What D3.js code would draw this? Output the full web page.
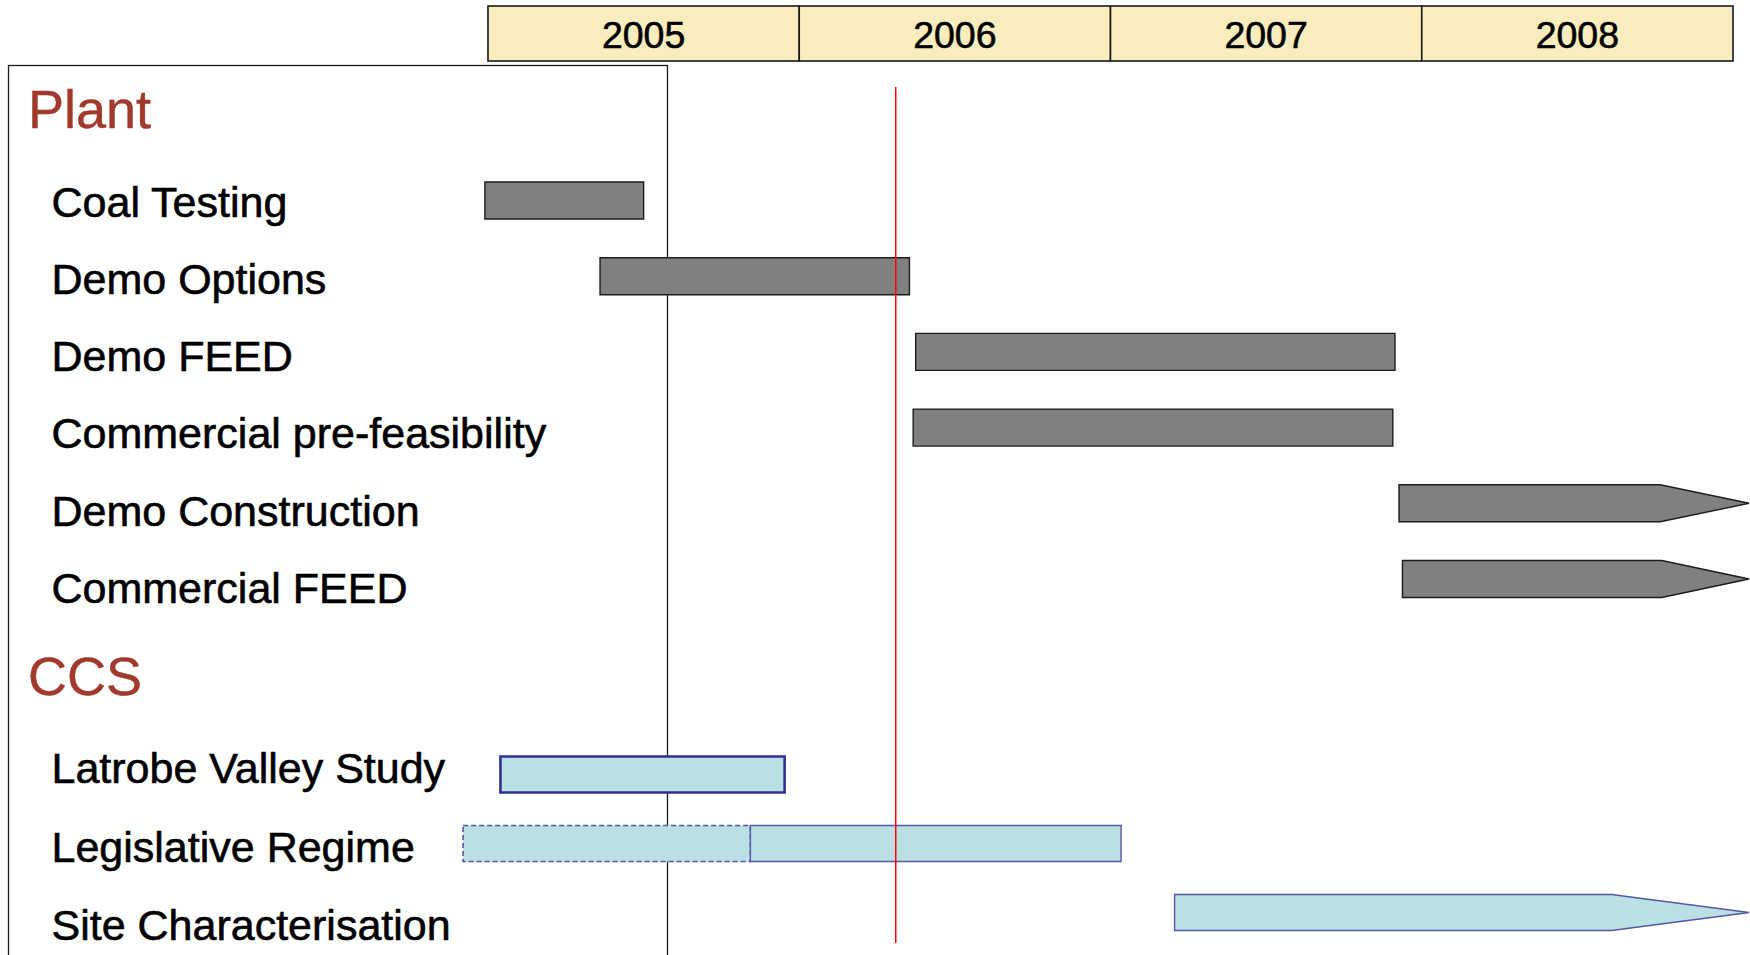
<!DOCTYPE html>
<html>
<head>
<meta charset="utf-8">
<script src="https://cdn.jsdelivr.net/npm/d3@7"></script>
<style>
  html, body { margin: 0; padding: 0; background: #ffffff; overflow: hidden; }
  svg { display: block; font-family: "Liberation Sans", Arial, Helvetica, sans-serif; }
</style>
</head>
<body>
<svg id="chart" width="1750" height="955"></svg>
<script>
// Timeline header
const years = ["2005", "2006", "2007", "2008"];
const timelineEnd = 2009;
const today = 2006.31;

// Plant workstream
const plantTasks = ["Coal Testing", "Demo Options", "Demo FEED", "Commercial pre-feasibility", "Demo Construction", "Commercial FEED"];
const plantStart = [2004.99, 2005.36, 2006.374, 2006.366, 2007.927, 2007.938];
const plantEnd   = [2005.50, 2006.354, 2007.914, 2007.907, 2008.766, 2008.771];
const plantOngoing = [false, false, false, false, true, true];

// CCS workstream
const ccsTasks = ["Latrobe Valley Study", "Legislative Regime", "Site Characterisation"];
const ccsStart = [2005.04, 2005.843, 2007.206];
const ccsEnd   = [2005.953, 2007.034, 2008.61];
const ccsTentativeFrom = [null, 2004.92, null];   // provisional lead-in period
const ccsOngoing = [false, false, true];
const ccsStatus = ["done", "active", "planned"];

const groups = [
  { name: "Plant", tasks: plantTasks, start: plantStart, end: plantEnd, ongoing: plantOngoing, kind: "plant" },
  { name: "CCS", tasks: ccsTasks, start: ccsStart, end: ccsEnd, ongoing: ccsOngoing, tentative: ccsTentativeFrom, status: ccsStatus, kind: "ccs" }
];

const svg = d3.select("#chart");

// time axis
const x = d3.scaleLinear().domain([+years[0], timelineEnd]).range([488, 1733]);
const tipX = 1749;

// row layout for each group: label baselines and bar centres
const layout = {
  Plant: { title: 128.3, label: d3.scaleLinear().domain([0, 5]).range([216.7, 603]),
           bar: d3.scaleLinear().domain([0, 5]).range([200.5, 579]), h: 37 },
  CCS:   { title: 695, label: d3.scaleLinear().domain([0, 2]).range([783.3, 940]),
           bar: d3.scaleLinear().domain([0, 2]).range([774.5, 912.5]), h: 36 }
};

const style = {
  plant: { fill: "#808080", stroke: "#1c1c1c", width: 1.4 },
  ccs:   { fill: "#bbe0e3", stroke: "#5456a8", width: 1.4 },
  done:  { stroke: "#2e3192", width: 2.6 }
};

// left task panel
svg.append("rect")
  .attr("x", 8.5).attr("y", 65.5)
  .attr("width", 659).attr("height", 1000)
  .attr("fill", "none").attr("stroke", "#1a1a1a").attr("stroke-width", 1.3);

// year header
const header = svg.append("g");
header.selectAll("rect").data(years).join("rect")
  .attr("x", d => x(+d)).attr("y", 6)
  .attr("width", d => x(+d + 1) - x(+d)).attr("height", 55)
  .attr("fill", "#f9edbd").attr("stroke", "#1a1a1a").attr("stroke-width", 1.6);
header.selectAll("text").data(years).join("text")
  .attr("x", d => (x(+d) + x(+d + 1)) / 2).attr("y", 48)
  .attr("text-anchor", "middle")
  .attr("font-size", 37.5).attr("fill", "#000")
  .attr("stroke", "#000").attr("stroke-width", 0.6)
  .text(d => d);

// bar shape: rectangle, or arrow running off the right edge
function barPath(x0, x1, yc, h, ongoing) {
  const t = yc - h / 2, b = yc + h / 2;
  const p = d3.path();
  p.moveTo(x0, t);
  p.lineTo(x1, t);
  if (ongoing) p.lineTo(tipX, yc);
  p.lineTo(x1, b);
  p.lineTo(x0, b);
  p.closePath();
  return p.toString();
}

groups.forEach(g => {
  const L = layout[g.name];
  const st = style[g.kind];

  svg.append("text")
    .attr("x", 28).attr("y", L.title)
    .attr("font-size", 54).attr("fill", "#a1392c")
    .attr("stroke", "#a1392c").attr("stroke-width", 0.4)
    .text(g.name);

  svg.append("g").selectAll("text").data(g.tasks).join("text")
    .attr("x", 51.5).attr("y", (d, i) => L.label(i))
    .attr("font-size", 43).attr("fill", "#000")
    .attr("stroke", "#000").attr("stroke-width", 0.6)
    .text(d => d);

  const bars = svg.append("g");
  g.tasks.forEach((name, i) => {
    const yc = L.bar(i);
    if (g.tentative && g.tentative[i] != null) {
      bars.append("rect")
        .attr("x", x(g.tentative[i])).attr("y", yc - L.h / 2)
        .attr("width", x(g.start[i]) - x(g.tentative[i])).attr("height", L.h)
        .attr("fill", st.fill).attr("stroke", st.stroke)
        .attr("stroke-width", 1.6).attr("stroke-dasharray", "5,3");
    }
    const strong = g.status && g.status[i] === "done";
    bars.append("path")
      .attr("d", barPath(x(g.start[i]), x(g.end[i]), yc, L.h, g.ongoing[i]))
      .attr("fill", st.fill)
      .attr("stroke", strong ? style.done.stroke : st.stroke)
      .attr("stroke-width", strong ? style.done.width : st.width)
      .attr("stroke-linejoin", "miter");
  });
});

// status date marker
svg.append("line")
  .attr("x1", x(today)).attr("x2", x(today))
  .attr("y1", 87).attr("y2", 943)
  .attr("stroke", "#ff0000").attr("stroke-width", 1.5);
</script>
</body>
</html>
